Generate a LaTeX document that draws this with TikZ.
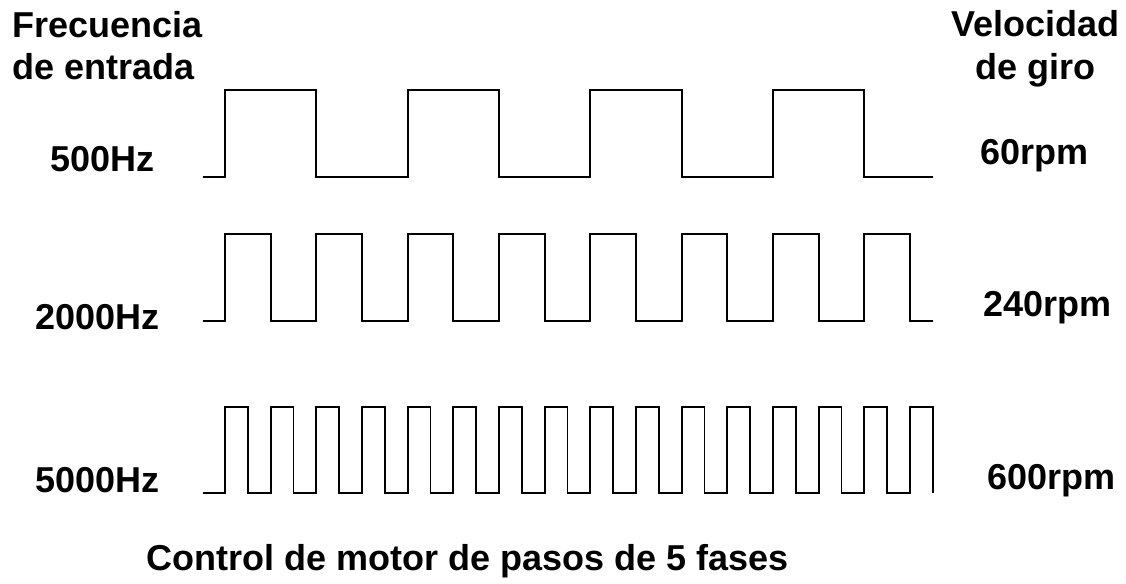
\documentclass[tikz,border=0pt]{standalone}
\usepackage{fontspec}
\setmainfont{Liberation Sans}
\begin{document}
\begin{tikzpicture}[x=0.75pt,y=-0.75pt,
  lbl/.style={anchor=base west,inner sep=0pt,font=\fontsize{27}{32}\bfseries\selectfont},
  wave/.style={line width=1.4pt,line join=miter}]
\useasboundingbox (0,0) rectangle (1126,584);
% labels
\node[lbl] (fr) at (12,38) {Frecuencia};
\node[lbl] (de) at (12,80) {de entrada};
\node[lbl] (ve) at (951,37) {Velocidad};
\node[lbl] (dg) at (975,80) {de giro};
\node[lbl] (h1) at (50,172) {500Hz};
\node[lbl] (h2) at (35,329) {2000Hz};
\node[lbl] (h3) at (35,492) {5000Hz};
\node[lbl] (r1) at (980,165) {60rpm};
\node[lbl] (r2) at (983,316) {240rpm};
\node[lbl] (r3) at (987,489) {600rpm};
\node[lbl] (ti) at (146,570) {Control de motor de pasos de 5 fases};
% waveforms
\draw[wave] (203,177) foreach \k in {0,...,3} { -- ({225+182.67*\k},177) -- ++(0,-87) -- ++(91.33,0) -- ++(0,87) } -- (933,177);
\draw[wave] (203,321) foreach \k in {0,...,7} { -- ({225+91.33*\k},321) -- ++(0,-87) -- ++(45.67,0) -- ++(0,87) } -- (933,321);
\draw[wave] (203,493) foreach \k in {0,...,15} { -- ({225+45.67*\k},493) -- ++(0,-86) -- ++(22.83,0) -- ++(0,86) };
\end{tikzpicture}
\end{document}
